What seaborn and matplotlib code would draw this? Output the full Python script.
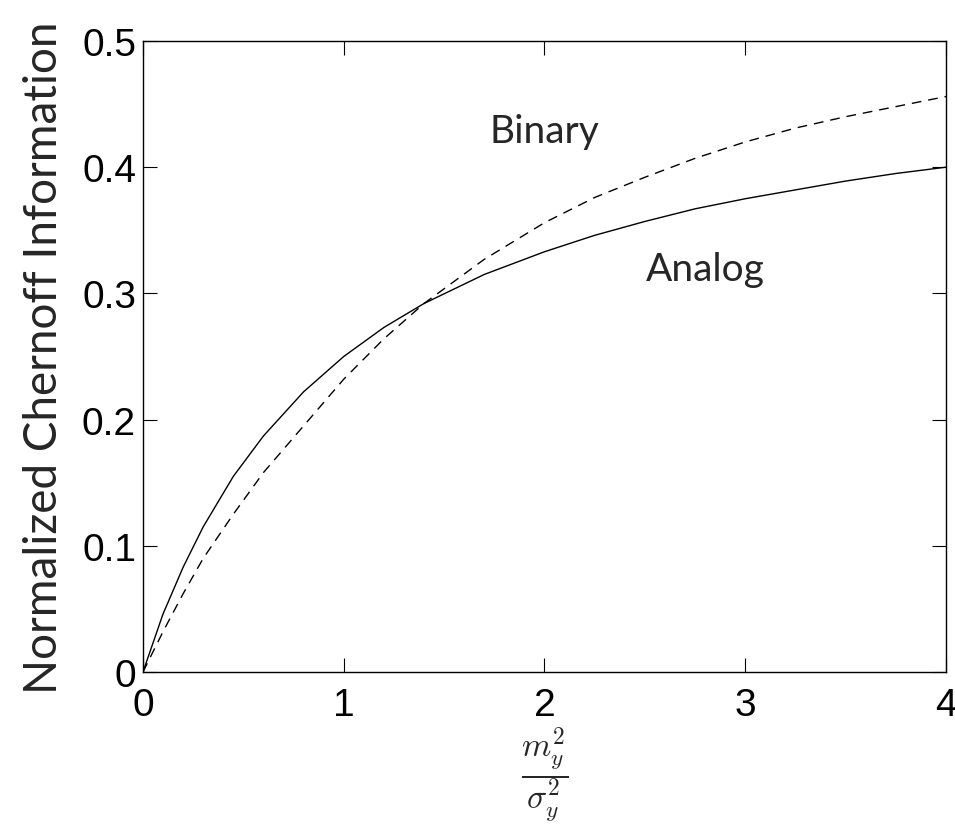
import numpy as np
import pandas as pd
import matplotlib
matplotlib.use('Agg')
import matplotlib.pyplot as plt
import seaborn as sns

# values
snr = [0, 0.1, 0.2, 0.3, 0.45, 0.6, 0.8, 1.0, 1.2, 1.4, 1.7, 2.0, 2.25, 2.5, 2.75, 3.0, 3.25, 3.5, 3.75, 4.0]
analog = [0, 0.046, 0.083, 0.115, 0.155, 0.187, 0.222, 0.250, 0.273, 0.292, 0.315, 0.333,
          0.346, 0.357, 0.367, 0.375, 0.382, 0.389, 0.395, 0.400]
binary = [0, 0.032, 0.062, 0.090, 0.125, 0.158, 0.195, 0.232, 0.264, 0.292, 0.327, 0.356,
          0.376, 0.392, 0.407, 0.420, 0.431, 0.440, 0.448, 0.456]

xticks = [0, 1, 2, 3, 4]
yticks = [0, 0.1, 0.2, 0.3, 0.4, 0.5]
ytick_labels = ['0', '0.1', '0.2', '0.3', '0.4', '0.5']

df = pd.DataFrame({'snr': snr, 'Analog': analog, 'Binary': binary})

sns.set_style('ticks')
plt.rcParams['font.family'] = ['Liberation Sans', 'DejaVu Sans']
plt.rcParams['mathtext.fontset'] = 'cm'

fig = plt.figure(figsize=(9.55, 8.28), dpi=100)
ax = fig.add_axes([0.1497, 0.1872, 0.8409, 0.7621])

sns.lineplot(data=df, x='snr', y='Analog', ax=ax, color='black', linewidth=1.0)
sns.lineplot(data=df, x='snr', y='Binary', ax=ax, color='black', linewidth=1.0,
             linestyle=(0, (7, 5)))

ax.set_xlim(0, 4)
ax.set_ylim(0, 0.5)
ax.set_xticks(xticks)
ax.set_xticklabels([str(t) for t in xticks])
ax.set_yticks(yticks)
ax.set_yticklabels(ytick_labels)
ax.tick_params(direction='in', length=10, width=0.8, labelsize=28,
               top=True, right=True, colors='black')
ax.tick_params(axis='x', pad=11)
ax.tick_params(axis='y', pad=5)
for s in ax.spines.values():
    s.set_visible(True)
    s.set_linewidth(1.0)
    s.set_color('black')

lab_font = ['Lato', 'DejaVu Sans']
ax.set_ylabel('Normalized Chernoff Information', fontsize=33, family=lab_font, labelpad=12)
ax.set_xlabel(r'$\dfrac{m_y^2}{\sigma_y^2}$', fontsize=24)
ax.xaxis.set_label_coords(0.5, -0.082)

ax.text(2.0, 0.429, 'Binary', fontsize=28, family=lab_font, ha='center', va='center')
ax.text(2.8, 0.319, 'Analog', fontsize=28, family=lab_font, ha='center', va='center')

fig.savefig('out.png', dpi=100, facecolor='white')
